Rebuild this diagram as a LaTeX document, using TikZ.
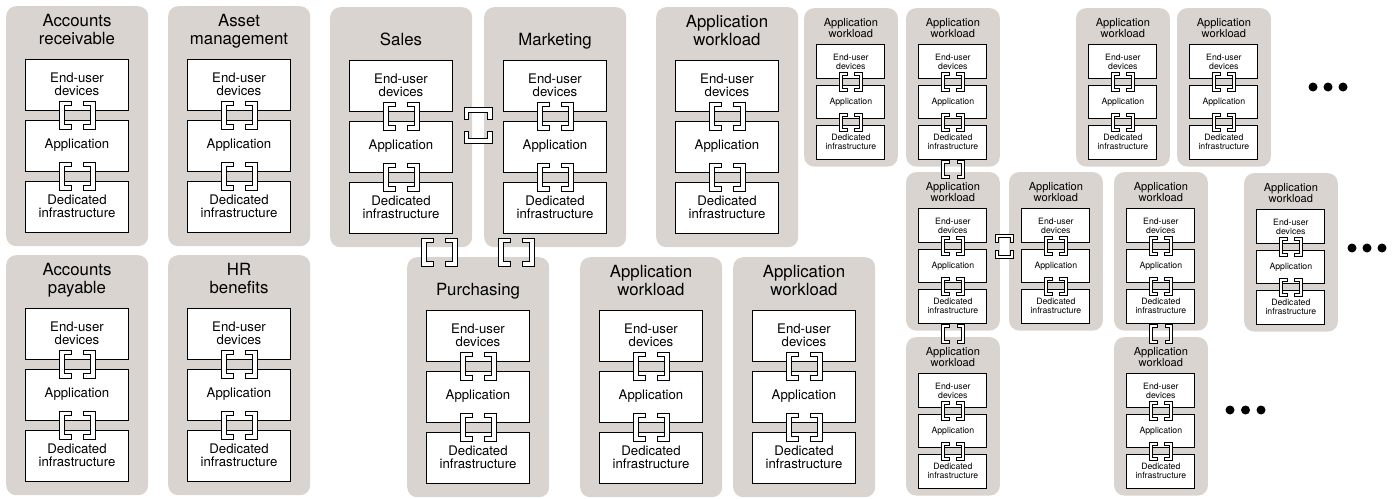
\documentclass[tikz,border=0pt]{standalone}
\usepackage{fontspec}
\setmainfont{TeX Gyre Heros}
\usepackage{tikz}
\usetikzlibrary{calc}
\definecolor{panelgray}{RGB}{217,212,207}

\begin{document}
\begin{tikzpicture}[x=1pt, y=-1pt,
    panelbg/.style={fill=panelgray, rounded corners=10pt, minimum width=142pt, minimum height=240pt, anchor=north west, inner sep=0pt},
    heading/.style={align=center, font=\fontsize{16.8}{17.5}\selectfont, anchor=south, inner sep=0pt, text depth=0pt},
    layer/.style={draw, fill=white, line width=1pt, minimum width=103pt, minimum height=51pt, align=center, inner sep=0pt, font=\fontsize{13.2}{13.5}\selectfont},
    bracket/.style={draw, fill=white, line width=0.8pt, line join=miter},
    small/.style={scale=0.66, transform shape},
    smallpanel/.style={small, heading/.append style={yshift=-7pt}, layer/.append style={yshift=-3pt}},
    joint/.pic={
        \filldraw[bracket] (-18,-14) -- (-6,-14) -- (-6,-9.5) -- (-13,-9.5) -- (-13,9.5) -- (-6,9.5) -- (-6,14) -- (-18,14) -- cycle;
        \filldraw[bracket] (18,-14) -- (6,-14) -- (6,-9.5) -- (13,-9.5) -- (13,9.5) -- (6,9.5) -- (6,14) -- (18,14) -- cycle;
    },
    panel/.pic={
        \node[panelbg] (-bg) at (0,0) {};
        \node[heading] (-head) at (71,38.5) {#1};
        \node[layer] (-dev) at (71,78.5) {End-user\\devices};
        \node[layer] (-app) at (71,139.5) {Application};
        \node[layer] (-ded) at (71,200.5) {Dedicated\\infrastructure};
        \pic at ($(-dev)!0.5!(-app)$) {joint};
        \pic at ($(-app)!0.5!(-ded)$) {joint};
    }]
    \useasboundingbox (0,0) rectangle (1396,498);

    \pic (ar) at (6,6) {panel={Accounts\\receivable}};
    \pic (am) at (168,6) {panel={Asset\\management}};
    \pic (ap) at (6,255) {panel={Accounts\\payable}};
    \pic (hr) at (168,255) {panel={HR\\benefits}};
    \pic (sales) at (330,7) {panel=Sales};
    \pic (mkt) at (484,7) {panel=Marketing};
    \pic (purch) at (407,257) {panel=Purchasing};
    \pic (aw1) at (656,7) {panel={Application\\workload}};
    \pic (aw2) at (580,257) {panel={Application\\workload}};
    \pic (aw3) at (733,257) {panel={Application\\workload}};

    \pic[smallpanel] (s1) at (804,8) {panel={Application\\workload}};
    \pic[smallpanel] (s2) at (906,8) {panel={Application\\workload}};
    \pic[smallpanel] (s3) at (906,172) {panel={Application\\workload}};
    \pic[smallpanel] (s4) at (1009,172) {panel={Application\\workload}};
    \pic[smallpanel] (s5) at (906,337) {panel={Application\\workload}};
    \pic[smallpanel] (s6) at (1076,8) {panel={Application\\workload}};
    \pic[smallpanel] (s7) at (1177,8) {panel={Application\\workload}};
    \pic[smallpanel] (s8) at (1114,172) {panel={Application\\workload}};
    \pic[smallpanel] (s9) at (1114,337) {panel={Application\\workload}};
    \pic[smallpanel] (s10) at (1244,173) {panel={Application\\workload}};

    \pic[yshift=2pt, rotate=90] at ($(sales-bg.east)!0.5!(mkt-bg.west)$) {joint};
    \pic at ($(sales-bg.south)!0.5!(purch-bg.north)$) {joint};
    \pic at ($(mkt-bg.south)!0.5!(purch-bg.north)$) {joint};
    \pic[small] at ($(s2-bg.south)!0.5!(s3-bg.north)$) {joint};
    \pic[yshift=5pt, small, rotate=90] at ($(s3-bg.east)!0.5!(s4-bg.west)$) {joint};
    \pic[small] at ($(s3-bg.south)!0.5!(s5-bg.north)$) {joint};
    \pic[small] at ($(s8-bg.south)!0.5!(s9-bg.north)$) {joint};

    \foreach \x in {1313,1328,1343} \fill (\x,87) circle (4.5pt);
    \foreach \x in {1352,1367,1382} \fill (\x,248) circle (4.5pt);
    \foreach \x in {1230,1245.5,1261} \fill (\x,410) circle (4.5pt);
\end{tikzpicture}
\end{document}
